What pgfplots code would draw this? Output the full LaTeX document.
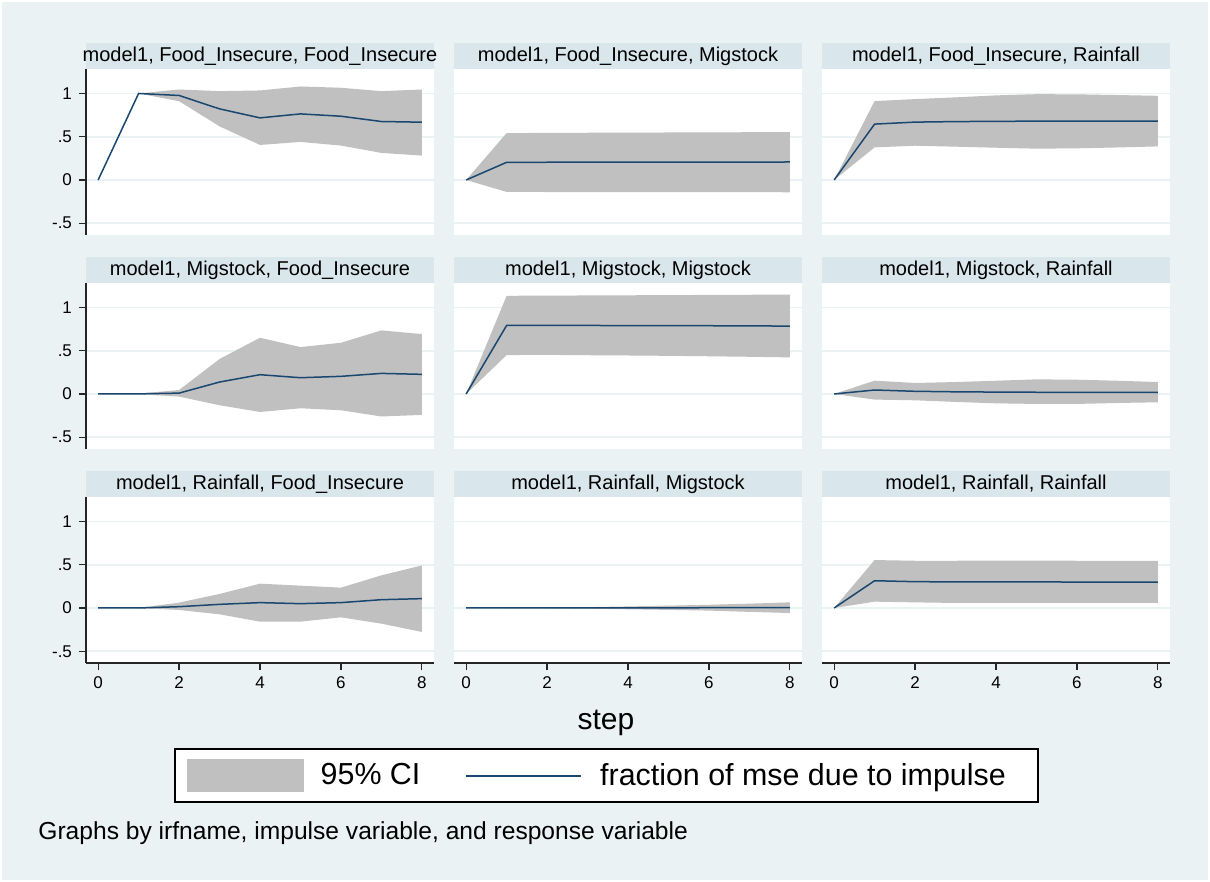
\documentclass[border=0pt]{standalone}
\usepackage{fontspec}
\setmainfont{Liberation Sans}
\usepackage{pgfplots}
\pgfplotsset{compat=1.18}
\usepackage{pgfplotstable}
\definecolor{bgc}{RGB}{234,242,243}
\definecolor{stripc}{RGB}{217,230,235}
\definecolor{gridc}{RGB}{234,242,243}
\definecolor{cigray}{RGB}{192,192,192}
\definecolor{navyc}{RGB}{26,71,111}

% step lo hi irf  (impulse, response)
\pgfplotstableread{
s lo hi irf
0 0 0 0
1 1 1 1
2 .911 1.046 .977
3 .62 1.027 .822
4 .405 1.035 .718
5 .44 1.081 .764
6 .398 1.066 .737
7 .313 1.027 .676
8 .282 1.046 .668
}\tAA
\pgfplotstableread{
s lo hi irf
0 0 0 0
1 -.138 .542 .204
2 -.139 .544 .205
3 -.139 .546 .205
4 -.140 .548 .206
5 -.140 .549 .206
6 -.141 .551 .207
7 -.141 .552 .207
8 -.142 .554 .208
}\tAB
\pgfplotstableread{
s lo hi irf
0 0 0 0
1 .377 .912 .646
2 .396 .935 .669
3 .385 .955 .675
4 .373 .978 .678
5 .362 .992 .680
6 .366 .990 .680
7 .376 .982 .680
8 .388 .973 .680
}\tAC
\pgfplotstableread{
s lo hi irf
0 0 0 0
1 -.002 .004 .001
2 -.030 .046 .010
3 -.130 .404 .138
4 -.208 .650 .223
5 -.165 .542 .188
6 -.188 .592 .204
7 -.260 .735 .238
8 -.242 .692 .227
}\tBA
\pgfplotstableread{
s lo hi irf
0 0 0 0
1 .450 1.135 .792
2 .452 1.137 .793
3 .448 1.139 .792
4 .445 1.141 .791
5 .441 1.143 .790
6 .436 1.145 .789
7 .430 1.147 .787
8 .423 1.150 .785
}\tBB
\pgfplotstableread{
s lo hi irf
0 0 0 0
1 -.065 .154 .046
2 -.073 .127 .031
3 -.092 .138 .025
4 -.108 .153 .022
5 -.115 .169 .020
6 -.115 .165 .019
7 -.104 .153 .019
8 -.096 .138 .019
}\tBC
\pgfplotstableread{
s lo hi irf
0 0 0 0
1 0 0 0
2 -.023 .062 .015
3 -.073 .162 .042
4 -.158 .281 .062
5 -.158 .258 .050
6 -.108 .235 .062
7 -.181 .377 .096
8 -.277 .492 .108
}\tCA
\pgfplotstableread{
s lo hi irf
0 0 0 0
1 0 0 0
2 -.003 .004 .0005
3 -.008 .010 .001
4 -.015 .018 .002
5 -.022 .027 .002
6 -.030 .037 .003
7 -.045 .050 .003
8 -.058 .065 .003
}\tCB
\pgfplotstableread{
s lo hi irf
0 0 0 0
1 .073 .554 .315
2 .065 .546 .304
3 .058 .546 .302
4 .058 .547 .301
5 .058 .547 .301
6 .058 .546 .300
7 .058 .546 .300
8 .058 .546 .300
}\tCC

\pgfplotsset{
  panel/.style={
    scale only axis, width=174pt, height=83pt, anchor=north west,
    xmin=-0.3, xmax=8.3, ymin=-0.636, ymax=1.283,
    axis lines*=left,
    axis line style={black!85, line width=0.6pt},
    tick align=outside, major tick length=3.5pt,
    tick style={black!85, line width=0.6pt},
    xtick={0,2,4,6,8}, xticklabels={0,2,4,6,8},
    ytick={-0.5,0,0.5,1}, yticklabels={-.5,0,.5,1},
    ymajorgrids, grid style={gridc, line width=0.8pt},
    axis background/.style={fill=white},
    ticklabel style={font=\fontsize{8.5}{10}\selectfont},
  },
  noy/.style={y axis line style={draw=none}, ytick style={draw=none}, yticklabels={}},
  nox/.style={x axis line style={draw=none}, xtick style={draw=none}, xticklabels={}},
}

\newcommand{\panelplots}[1]{%
  \addplot[draw=none, stack plots=y, forget plot] table[x=s,y=lo]{#1};
  \addplot[fill=cigray, draw=none, stack plots=y, forget plot] table[x=s,y expr=\thisrow{hi}-\thisrow{lo}]{#1} \closedcycle;
  \addplot[navyc, line width=0.75pt, stack plots=false, forget plot] table[x=s,y=irf]{#1};
}
\newcommand{\strip}[3]{%
  \fill[stripc] (#1pt,#2pt) rectangle ++(174pt,-13pt);
  \node[font=\fontsize{10}{12}\selectfont, inner sep=0pt] at (#1pt+87pt,#2pt-6.5pt) {#3};
}

\begin{document}
\begin{tikzpicture}
\fill[white] (0,0) rectangle (605pt,-441pt);
\fill[bgc] (1pt,-1pt) rectangle (604pt,-440pt);

\strip{43}{-21.5}{model1, Food\_Insecure, Food\_Insecure}
\strip{227}{-21.5}{model1, Food\_Insecure, Migstock}
\strip{411}{-21.5}{model1, Food\_Insecure, Rainfall}
\strip{43}{-128.5}{model1, Migstock, Food\_Insecure}
\strip{227}{-128.5}{model1, Migstock, Migstock}
\strip{411}{-128.5}{model1, Migstock, Rainfall}
\strip{43}{-235.5}{model1, Rainfall, Food\_Insecure}
\strip{227}{-235.5}{model1, Rainfall, Migstock}
\strip{411}{-235.5}{model1, Rainfall, Rainfall}

\begin{axis}[panel, nox, at={(43pt,-34.5pt)}]
\panelplots{\tAA}
\end{axis}
\begin{axis}[panel, nox, noy, at={(227pt,-34.5pt)}]
\panelplots{\tAB}
\end{axis}
\begin{axis}[panel, nox, noy, at={(411pt,-34.5pt)}]
\panelplots{\tAC}
\end{axis}

\begin{axis}[panel, nox, at={(43pt,-141.5pt)}]
\panelplots{\tBA}
\end{axis}
\begin{axis}[panel, nox, noy, at={(227pt,-141.5pt)}]
\panelplots{\tBB}
\end{axis}
\begin{axis}[panel, nox, noy, at={(411pt,-141.5pt)}]
\panelplots{\tBC}
\end{axis}

\begin{axis}[panel, at={(43pt,-248.5pt)}]
\panelplots{\tCA}
\end{axis}
\begin{axis}[panel, noy, at={(227pt,-248.5pt)},
  legend columns=2,
  legend style={at={(0.438,-0.678)}, anchor=center, draw=black, line width=0.8pt,
    fill=white, font=\fontsize{15.2}{18}\selectfont, inner xsep=6pt, inner ysep=5pt,
    /tikz/every even column/.append style={column sep=20.5pt}},
  legend cell align=left]
\addlegendimage{legend image code/.code={\fill[cigray] (0pt,-7.75pt) rectangle (57.5pt,7.75pt); \path (64pt,0pt);}}
\addlegendentry{95\% CI}
\addlegendimage{legend image code/.code={\draw[navyc, line width=1pt] (0pt,0pt) -- (57.5pt,0pt); \path (64.5pt,0pt);}}
\addlegendentry{fraction of mse due to impulse\hspace*{8pt}}
\panelplots{\tCB}
\end{axis}
\begin{axis}[panel, noy, at={(411pt,-248.5pt)}]
\panelplots{\tCC}
\end{axis}

\node[font=\fontsize{15}{18}\selectfont, anchor=base, inner sep=0pt] at (303pt,-364.5pt) {step};
\node[font=\fontsize{12.3}{14}\selectfont, anchor=base west, inner sep=0pt] at (19pt,-419.5pt) {Graphs by irfname, impulse variable, and response variable};
\end{tikzpicture}
\end{document}
